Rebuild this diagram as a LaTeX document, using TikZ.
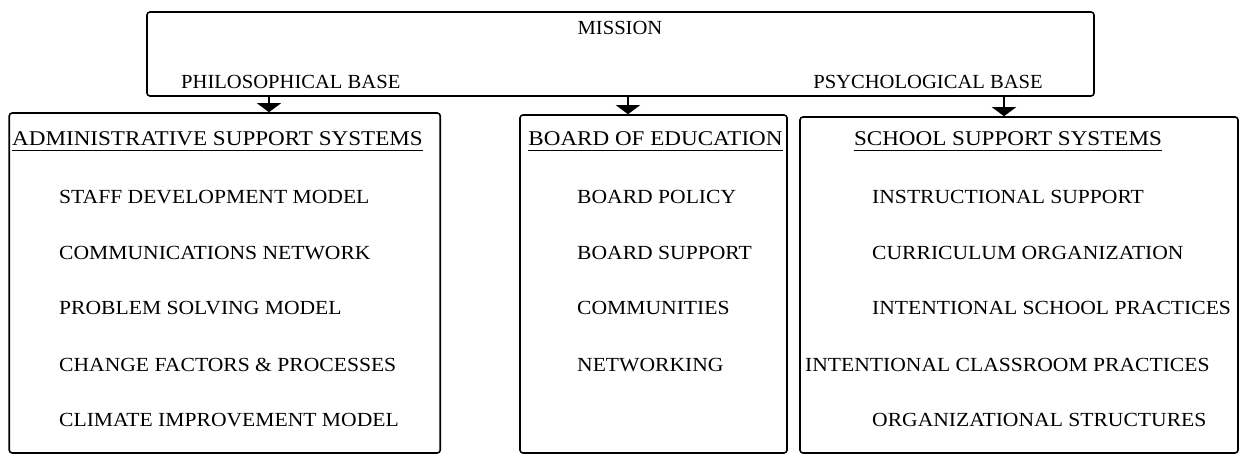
\documentclass[tikz,border=0pt]{standalone}
\usepackage{fontspec}
\setmainfont{Liberation Serif}
\newfontfamily\itemfont[FakeStretch=1.08]{Liberation Serif}
\newfontfamily\headfont[FakeStretch=1.1]{Liberation Serif}
\newfontfamily\topfont[FakeStretch=1.03]{Liberation Serif}
\usetikzlibrary{arrows.meta}
\tikzset{
  box/.style={draw, line width=1.6pt, rounded corners=3pt, inner sep=0pt},
  lbl/.style={font=\itemfont\fontsize{20}{24}\selectfont, inner sep=0pt, text height=13pt, text depth=0pt},
  toplbl/.style={lbl, font=\topfont\fontsize{20}{24}\selectfont},
  headlbl/.style={lbl, font=\headfont\fontsize{21}{25}\selectfont, text height=14pt},
  arr/.style={line width=1.4pt, -{Triangle[width=24pt,length=9pt]}},
  uline/.style={line width=1.3pt}
}
\begin{document}
\begin{tikzpicture}[x=1pt,y=-1pt]
\useasboundingbox (0,0) rectangle (1240,457);
% boxes
\node[box, minimum width=947pt, minimum height=84pt] (mission) at (620.5,54) {};
\node[box, minimum width=431pt, minimum height=340pt] (admin) at (224.75,283) {};
\node[box, minimum width=267pt, minimum height=338pt] (board) at (653.5,284) {};
\node[box, minimum width=438pt, minimum height=336pt] (school) at (1019,285) {};
% mission texts
\node[toplbl] (mtitle) at (620,28) {MISSION};
\node[toplbl, anchor=west] (phil) at (181,82) {PHILOSOPHICAL BASE};
\node[toplbl, anchor=east] (psych) at (1043,82) {PSYCHOLOGICAL BASE};
% arrows
\coordinate (pa) at (269,0);
\coordinate (pb) at (628,0);
\coordinate (pc) at (1004,0);
\draw[arr] (mission.south -| pa) -- (admin.north -| pa);
\draw[arr] (mission.south -| pb) -- (board.north -| pb);
\draw[arr] (mission.south -| pc) -- (school.north -| pc);
% headers
\node[headlbl] (ha) at (217.5,139) {ADMINISTRATIVE SUPPORT SYSTEMS};
\node[headlbl] (hb) at (655.5,139) {BOARD OF EDUCATION};
\node[headlbl] (hc) at (1008,139) {SCHOOL SUPPORT SYSTEMS};
\foreach \h in {ha,hb,hc}{
  \draw[uline] ([yshift=-4pt]\h.south west) -- ([yshift=-4pt]\h.south east);
}
% admin items
\node[lbl, anchor=west] (a1) at (59,197) {STAFF DEVELOPMENT MODEL};
\node[lbl, anchor=west] (a2) at (59,253) {COMMUNICATIONS NETWORK};
\node[lbl, anchor=west] (a3) at (59,308) {PROBLEM SOLVING MODEL};
\node[lbl, anchor=west] (a4) at (59,365) {CHANGE FACTORS \& PROCESSES};
\node[lbl, anchor=west] (a5) at (59,420) {CLIMATE IMPROVEMENT MODEL};
% board items
\node[lbl, anchor=west] (b1) at (577,197) {BOARD POLICY};
\node[lbl, anchor=west] (b2) at (577,253) {BOARD SUPPORT};
\node[lbl, anchor=west] (b3) at (577,308) {COMMUNITIES};
\node[lbl, anchor=west] (b4) at (577,365) {NETWORKING};
% school items
\node[lbl, anchor=west] (s1) at (872,197) {INSTRUCTIONAL SUPPORT};
\node[lbl, anchor=west] (s2) at (872,253) {CURRICULUM ORGANIZATION};
\node[lbl, anchor=west] (s3) at (872,308) {INTENTIONAL SCHOOL PRACTICES};
\node[lbl, anchor=west] (s4) at (805,365) {INTENTIONAL CLASSROOM PRACTICES};
\node[lbl, anchor=west] (s5) at (872,420) {ORGANIZATIONAL STRUCTURES};
\end{tikzpicture}
\end{document}
